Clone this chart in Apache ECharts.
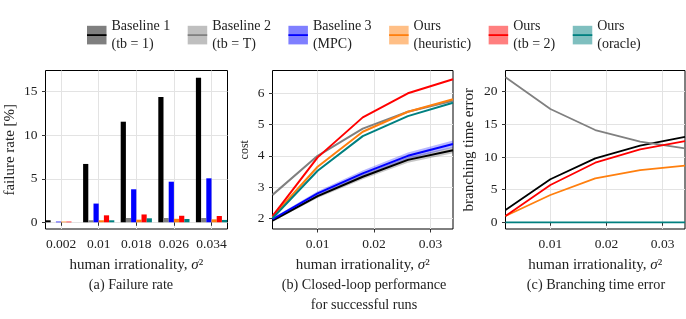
<!DOCTYPE html>
<html>
<head>
<meta charset="utf-8">
<script src="https://cdn.jsdelivr.net/npm/echarts@6/dist/echarts.min.js"></script>
<style>html,body{margin:0;padding:0;background:#fff}#c{width:686px;height:319px}</style>
</head>
<body>
<div id="c"></div>
<script>
// ---- data ----
const sigmaLabels = ['0.002', '0.01', '0.018', '0.026', '0.034'];
const sigma = [0.002, 0.01, 0.018, 0.026, 0.034];
const seriesNames = ['Baseline 1\n(tb = 1)', 'Baseline 2\n(tb = T)', 'Baseline 3\n(MPC)', 'Ours\n(heuristic)', 'Ours\n(tb = 2)', 'Ours\n(oracle)'];
const seriesColors = ['#000000', '#808080', '#0000ff', '#ff7f0e', '#ff0000', '#008080'];

// (a) failure rate [%]
const failB1 = [0.23, 6.7, 11.55, 14.39, 16.6];
const failB2 = [0, 0.23, 0.49, 0.49, 0.49];
const failB3 = [0.08, 2.15, 3.79, 4.66, 5.05];
const failHeur = [0.08, 0.23, 0.3, 0.4, 0.34];
const failTb2 = [0.08, 0.8, 0.9, 0.75, 0.72];
const failOracle = [0, 0.23, 0.46, 0.38, 0.27];

// (b) cost
const costB1 = [1.93, 2.71, 3.33, 3.87, 4.18];
const costB1Lo = [1.89, 2.65, 3.25, 3.78, 4.08];
const costB1Hi = [1.97, 2.77, 3.41, 3.96, 4.28];
const costB2 = [2.75, 4.0, 4.87, 5.41, 5.76];
const costB3 = [1.97, 2.8, 3.44, 4.0, 4.38];
const costB3Lo = [1.93, 2.73, 3.35, 3.89, 4.27];
const costB3Hi = [2.01, 2.87, 3.53, 4.11, 4.49];
const costHeur = [2.05, 3.65, 4.77, 5.41, 5.81];
const costTb2 = [2.07, 3.95, 5.23, 6.0, 6.45];
const costOracle = [2.0, 3.52, 4.63, 5.27, 5.70];

// (c) branching time error
const brB1 = [1.88, 6.6, 9.8, 11.73, 13.1];
const brB2 = [22.2, 17.35, 14.13, 12.35, 11.33];
const brHeur = [0.96, 4.18, 6.73, 8.0, 8.67];
const brTb2 = [0.96, 5.71, 9.13, 11.17, 12.45];
const brOracle = [0, 0, 0, 0, 0];

const yTicksA = [0, 5, 10, 15];
const yTicksB = [2, 3, 4, 5, 6];
const yTicksC = [0, 5, 10, 15, 20];
const xTicksBC = [0.01, 0.02, 0.03];

// ---- styling ----
const FF = "'Liberation Serif', 'DejaVu Serif', serif";
const TXT = '#222';
const GRIDLINE = '#e3e3e3';
const tickStyle = {show: true, length: 3.5, lineStyle: {color: '#000', width: 0.8}};
const labelStyle = {fontFamily: FF, fontSize: 13.5, color: TXT};
const xName = 'human irrationality, {s|σ}²';
const xNameStyle = {fontFamily: FF, fontSize: 15, color: TXT, rich: {s: {fontFamily: FF, fontSize: 15, fontStyle: 'italic', color: TXT}}};

const pairs = (ys) => sigma.map((x, i) => [x, ys[i]]);

const failData = [failB1, failB2, failB3, failHeur, failTb2, failOracle];
const barSeries = failData.map((d, i) => ({
  type: 'bar', name: seriesNames[i], xAxisIndex: 0, yAxisIndex: 0,
  data: d, barWidth: 5.2, barGap: '0%', itemStyle: {color: seriesColors[i]}
}));

function lineS(nameIdx, axis, ys, width) {
  return {type: 'line', name: seriesNames[nameIdx], xAxisIndex: axis, yAxisIndex: axis,
    data: pairs(ys), symbol: 'none', lineStyle: {color: seriesColors[nameIdx], width: width},
    itemStyle: {color: seriesColors[nameIdx]}};
}
// shaded band between lo and hi, drawn through the axis scales
function band(key, lo, hi, color) {
  return {
    type: 'custom', name: '_band' + key, xAxisIndex: 2, yAxisIndex: 2, silent: true,
    data: sigma.map((x, i) => [x, lo[i], hi[i]]),
    encode: {x: 0, y: [1, 2]},
    renderItem: function (params, api) {
      if (params.dataIndex !== 0) return null;
      const top = sigma.map((x, i) => api.coord([x, hi[i]]));
      const bot = sigma.map((x, i) => api.coord([x, lo[i]])).reverse();
      return {type: 'polygon', shape: {points: top.concat(bot)}, style: {fill: color}};
    }
  };
}

const lineSeries = [
  band('b1', costB1Lo, costB1Hi, 'rgba(0,0,0,0.22)'),
  lineS(0, 2, costB1, 2),
  lineS(1, 2, costB2, 2),
  band('b3', costB3Lo, costB3Hi, 'rgba(0,0,255,0.28)'),
  lineS(2, 2, costB3, 2),
  lineS(3, 2, costHeur, 2),
  lineS(4, 2, costTb2, 2),
  lineS(5, 2, costOracle, 2),
  lineS(0, 3, brB1, 1.8),
  lineS(1, 3, brB2, 1.8),
  lineS(3, 3, brHeur, 1.8),
  lineS(4, 3, brTb2, 1.8),
  lineS(5, 3, brOracle, 1.8)
];

const legendBase = {
  data: seriesNames, left: 87, top: 17.5, padding: 0, orient: 'horizontal',
  itemWidth: 19.5, itemGap: 17.5, icon: 'rect', selectedMode: false
};

const option = {
  animation: false,
  backgroundColor: '#fff',
  legend: [
    Object.assign({}, legendBase, {itemHeight: 18.6, itemStyle: {opacity: 0.5},
      textStyle: {fontFamily: FF, fontSize: 14, lineHeight: 17.6, color: TXT}}),
    Object.assign({}, legendBase, {itemHeight: 1.8, itemStyle: {opacity: 1},
      textStyle: {fontFamily: FF, fontSize: 14, lineHeight: 17.6, color: 'rgba(0,0,0,0)'}})
  ],
  grid: [
    {left: 42.3, top: 70.5, width: 188, height: 158.5, show: false},
    {left: 45.5, top: 70.5, width: 182, height: 158.5, show: true, borderColor: '#000', borderWidth: 1, backgroundColor: 'transparent'},
    {left: 272.5, top: 70.5, width: 180.5, height: 158.5, show: true, borderColor: '#000', borderWidth: 1, backgroundColor: 'transparent'},
    {left: 505.5, top: 70.5, width: 179.5, height: 158.5, show: true, borderColor: '#000', borderWidth: 1, backgroundColor: 'transparent'}
  ],
  xAxis: [
    {type: 'category', gridIndex: 0, data: sigmaLabels, boundaryGap: true,
      axisLine: {show: false}, axisTick: Object.assign({alignWithLabel: true, interval: 0}, tickStyle),
      axisLabel: Object.assign({margin: 8, interval: 0, hideOverlap: false}, labelStyle),
      splitLine: {show: true, alignWithLabel: true, interval: 0, lineStyle: {color: GRIDLINE}},
      name: xName, nameLocation: 'middle', nameGap: 29, nameTextStyle: xNameStyle},
    {type: 'value', gridIndex: 1, show: false, min: 0, max: 1},
    {type: 'value', gridIndex: 2, min: 0.002, max: 0.034, minInterval: 0.01, maxInterval: 0.01,
      axisLine: {show: false}, axisTick: Object.assign({customValues: xTicksBC}, tickStyle),
      axisLabel: Object.assign({margin: 8, customValues: xTicksBC}, labelStyle),
      splitLine: {show: true, lineStyle: {color: GRIDLINE}},
      name: xName, nameLocation: 'middle', nameGap: 29, nameTextStyle: xNameStyle},
    {type: 'value', gridIndex: 3, min: 0.002, max: 0.034, minInterval: 0.01, maxInterval: 0.01,
      axisLine: {show: false}, axisTick: Object.assign({customValues: xTicksBC}, tickStyle),
      axisLabel: Object.assign({margin: 8, customValues: xTicksBC}, labelStyle),
      splitLine: {show: true, lineStyle: {color: GRIDLINE}},
      name: xName, nameLocation: 'middle', nameGap: 29, nameTextStyle: xNameStyle}
  ],
  yAxis: [
    {type: 'value', gridIndex: 0, show: false, min: -0.77, max: 17.43, minInterval: 5, maxInterval: 5, splitLine: {show: false}},
    {type: 'value', gridIndex: 1, min: -0.77, max: 17.43, minInterval: 5, maxInterval: 5,
      axisLine: {show: false}, axisTick: Object.assign({customValues: yTicksA}, tickStyle),
      axisLabel: Object.assign({margin: 8, customValues: yTicksA}, labelStyle),
      splitLine: {show: true, lineStyle: {color: GRIDLINE}},
      name: 'failure rate [%]', nameLocation: 'middle', nameGap: 28,
      nameTextStyle: {fontFamily: FF, fontSize: 15, color: TXT}},
    {type: 'value', gridIndex: 2, min: 1.658, max: 6.73, minInterval: 1, maxInterval: 1,
      axisLine: {show: false}, axisTick: Object.assign({customValues: yTicksB}, tickStyle),
      axisLabel: Object.assign({margin: 8, customValues: yTicksB}, labelStyle),
      splitLine: {show: true, lineStyle: {color: GRIDLINE}},
      name: 'cost', nameLocation: 'middle', nameGap: 22,
      nameTextStyle: {fontFamily: FF, fontSize: 12, color: TXT}},
    {type: 'value', gridIndex: 3, min: -1.026, max: 23.25, minInterval: 5, maxInterval: 5,
      axisLine: {show: false}, axisTick: Object.assign({customValues: yTicksC}, tickStyle),
      axisLabel: Object.assign({margin: 8, customValues: yTicksC}, labelStyle),
      splitLine: {show: true, lineStyle: {color: GRIDLINE}},
      name: 'branching time error', nameLocation: 'middle', nameGap: 29,
      nameTextStyle: {fontFamily: FF, fontSize: 15, color: TXT}}
  ],
  graphic: [
    {type: 'text', x: 131, y: 285, style: {text: '(a) Failure rate', align: 'center', verticalAlign: 'middle', fontFamily: FF, fontSize: 14.2, fill: TXT}},
    {type: 'text', x: 364, y: 295.3, style: {text: '(b) Closed-loop performance\nfor successful runs', align: 'center', verticalAlign: 'middle', lineHeight: 20.5, fontFamily: FF, fontSize: 14.2, fill: TXT}},
    {type: 'text', x: 596, y: 285, style: {text: '(c) Branching time error', align: 'center', verticalAlign: 'middle', fontFamily: FF, fontSize: 14.2, fill: TXT}}
  ],
  series: [...barSeries, ...lineSeries]
};

const chart = echarts.init(document.getElementById('c'), null, {renderer: 'canvas'});
chart.setOption(option);
</script>
</body>
</html>
